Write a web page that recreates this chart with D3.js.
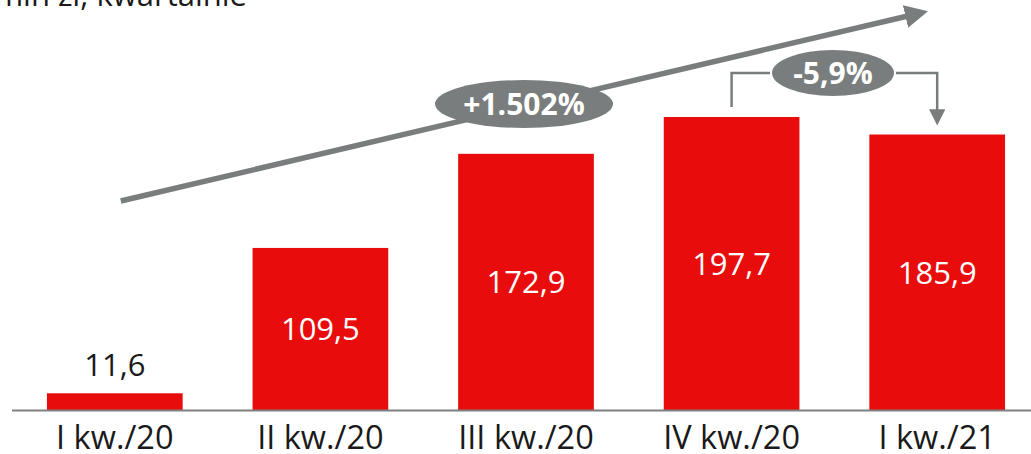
<!DOCTYPE html>
<html>
<head>
<meta charset="utf-8">
<script src="https://cdn.jsdelivr.net/npm/d3@7/dist/d3.min.js"></script>
<style>
  html, body { margin: 0; padding: 0; background: #fff; }
  svg { display: block; }
  text { font-family: "Open Sans", "DejaVu Sans", sans-serif; }
</style>
</head>
<body>
<svg id="chart" width="1031" height="454"></svg>
<script>
// Quarterly revenue, PLN million
const categories = ["I kw./20", "II kw./20", "III kw./20", "IV kw./20", "I kw./21"];
const values = [11.6, 109.5, 172.9, 197.7, 185.9];
const valueLabels = ["11,6", "109,5", "172,9", "197,7", "185,9"];
const unitLabel = "mln zł, kwartalnie";
const totalGrowthLabel = "+1.502%";
const lastChangeLabel = "-5,9%";

const W = 1031, H = 454;
const baseY = 410.5;
const red = "#e80c0c";
const grey = "#7a7d7d";

const svg = d3.select("#chart");

const x = d3.scaleBand()
  .domain(categories)
  .range([12, 1040])
  .paddingInner(0.34)
  .paddingOuter(0.17);

const y = d3.scaleLinear()
  .domain([0, 197.7])
  .range([baseY, 117]);

// unit caption, partly clipped at the top edge
svg.append("text")
  .attr("x", 247)
  .attr("y", 6)
  .attr("text-anchor", "end")
  .attr("font-size", 31)
  .attr("fill", "#1a1a1a")
  .text(unitLabel);

// bars
svg.selectAll("rect.bar")
  .data(values)
  .join("rect")
  .attr("class", "bar")
  .attr("x", (d, i) => x(categories[i]))
  .attr("width", x.bandwidth())
  .attr("y", d => y(d))
  .attr("height", d => baseY - y(d))
  .attr("fill", red);

// baseline axis
const xAxis = d3.axisBottom(x).tickSize(0);
const axisG = svg.append("g")
  .attr("transform", `translate(0,${baseY})`)
  .call(xAxis);
axisG.select(".domain")
  .attr("d", `M12,0H${W}`)
  .attr("stroke", "#808080")
  .attr("stroke-width", 2.2);
axisG.selectAll(".tick text")
  .attr("font-size", 32.5)
  .attr("fill", "#1a1a1a")
  .attr("font-family", "'Open Sans', sans-serif")
  .attr("y", 38.5)
  .attr("dy", 0);

// value labels: inside tall bars, above the small one
svg.selectAll("text.val")
  .data(values)
  .join("text")
  .attr("class", "val")
  .attr("x", (d, i) => x(categories[i]) + x.bandwidth() / 2)
  .attr("y", d => (baseY - y(d)) > 60 ? (y(d) + baseY) / 2 : y(d) - 28)
  .attr("dy", "0.36em")
  .attr("text-anchor", "middle")
  .attr("font-size", 31)
  .attr("fill", d => (baseY - y(d)) > 60 ? "#fff" : "#1a1a1a")
  .text((d, i) => valueLabels[i]);

// markers
const defs = svg.append("defs");
defs.append("marker")
  .attr("id", "headBig")
  .attr("viewBox", "0 0 10 10")
  .attr("refX", 2).attr("refY", 5)
  .attr("markerWidth", 4.2).attr("markerHeight", 4.6)
  .attr("markerUnits", "strokeWidth")
  .attr("orient", "auto")
  .append("path").attr("d", "M0,0L10,5L0,10Z").attr("fill", grey);
defs.append("marker")
  .attr("id", "headSmall")
  .attr("viewBox", "0 0 10 10")
  .attr("refX", 2).attr("refY", 5)
  .attr("markerWidth", 6.5).attr("markerHeight", 6.5)
  .attr("markerUnits", "strokeWidth")
  .attr("orient", "auto")
  .append("path").attr("d", "M0,0L10,5L0,10Z").attr("fill", grey);

// overall growth trend arrow
const c0 = x(categories[0]) + x.bandwidth() / 2;
svg.append("line")
  .attr("x1", c0 + 6).attr("y1", 201)
  .attr("x2", 910).attr("y2", 15.5)
  .attr("stroke", grey)
  .attr("stroke-width", 5.5)
  .attr("marker-end", "url(#headBig)");

// growth badge
svg.append("ellipse")
  .attr("cx", 524).attr("cy", 104)
  .attr("rx", 89).attr("ry", 24)
  .attr("fill", grey);
svg.append("text")
  .attr("x", 524).attr("y", 104)
  .attr("dy", "0.36em")
  .attr("text-anchor", "middle")
  .attr("font-size", 30)
  .attr("font-weight", 700)
  .attr("fill", "#fff")
  .text(totalGrowthLabel);

// quarter-on-quarter bracket between the last two bars
const c3 = x(categories[3]) + x.bandwidth() / 2;
const c4 = x(categories[4]) + x.bandwidth() / 2;
const bracketY = 73;
svg.append("path")
  .attr("d", `M${c3},${y(values[3]) - 10}V${bracketY}H${c4}V${y(values[4]) - 22}`)
  .attr("fill", "none")
  .attr("stroke", grey)
  .attr("stroke-width", 2.5)
  .attr("marker-end", "url(#headSmall)");

svg.append("ellipse")
  .attr("cx", 833).attr("cy", bracketY)
  .attr("rx", 62).attr("ry", 24)
  .attr("fill", grey)
  .attr("stroke", "#fff")
  .attr("stroke-width", 2);
svg.append("text")
  .attr("x", 833).attr("y", bracketY)
  .attr("dy", "0.36em")
  .attr("text-anchor", "middle")
  .attr("font-size", 30)
  .attr("font-weight", 700)
  .attr("fill", "#fff")
  .text(lastChangeLabel);
</script>
</body>
</html>
